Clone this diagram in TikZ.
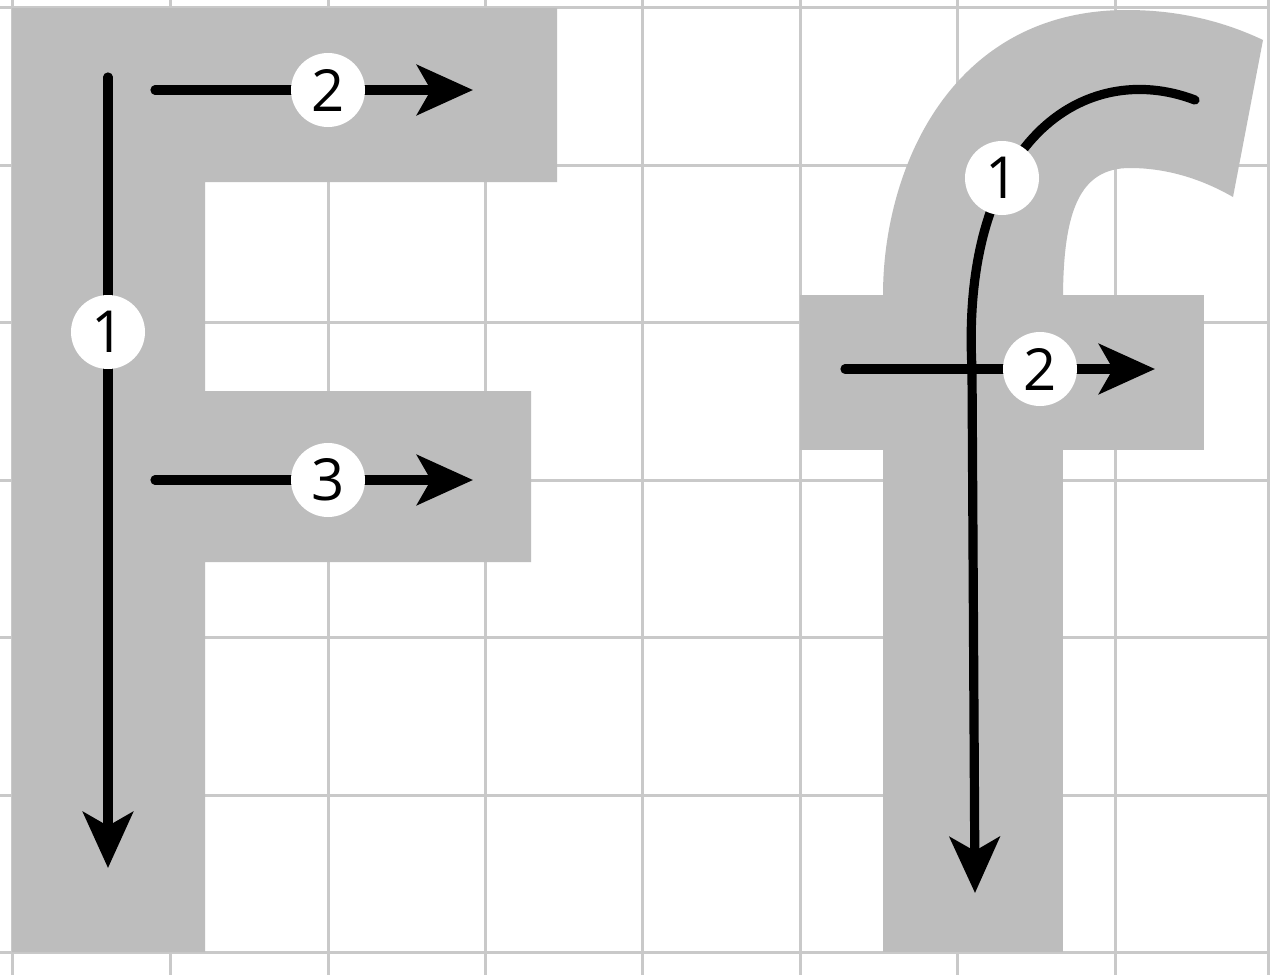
\documentclass[tikz,border=0pt]{standalone}
\usepackage{fontspec}
\setmainfont{Open Sans}
\usetikzlibrary{arrows.meta}
\definecolor{glyph}{HTML}{BDBDBD}
\definecolor{gridc}{HTML}{C9C9C9}
\tikzset{
  gridline/.style={draw=gridc, line width=1.5pt},
  glyphfill/.style={fill=glyph, draw=none},
  arr/.style={draw=black, line width=4.6pt, line cap=round,
    -{Stealth[length=28pt,width=25pt,inset=7pt]}},
  curve/.style={draw=black, line width=4.6pt, line cap=round},
  num/.style={circle, fill=white, draw=none, minimum size=37pt, inner sep=0pt,
    font=\fontsize{29}{29}\selectfont}
}
\begin{document}
\begin{tikzpicture}[x=0.5pt, y=-0.5pt]
\useasboundingbox (0,0) rectangle (1270,975);
\fill[white] (0,0) rectangle (1270,975);
% grid
\foreach \gx in {12,170,328,485,642,800,957,1115,1268}
  \draw[gridline] (\gx,0) -- (\gx,975);
\foreach \gy in {7,165,322,480,637,795,952}
  \draw[gridline] (0,\gy) -- (1270,\gy);
% letter F
\path[glyphfill] (12,8) -- (557,8) -- (557,182) -- (205,182) -- (205,391)
  -- (531,391) -- (531,562) -- (205,562) -- (205,952) -- (12,952) -- cycle;
% letter f
\path[glyphfill] (800,295) rectangle (1204,450);
\path[glyphfill] (883,295) rectangle (1063,952);
\path[glyphfill] (883,300) -- (883,295) .. controls (883,170) and (950,10) .. (1127,10)
  .. controls (1180,10) and (1225,22) .. (1263,40) -- (1233,197)
  .. controls (1200,178) and (1165,168) .. (1130,168)
  .. controls (1080,168) and (1063,210) .. (1063,300) -- cycle;
% F strokes
\coordinate (Fas) at (108,77);
\coordinate (Fae) at (108,868);
\coordinate (Fbs) at (155,90);
\coordinate (Fbe) at (473,90);
\coordinate (Fcs) at (155,480);
\coordinate (Fce) at (473,480);
\draw[arr] (Fas) -- (Fae);
\draw[arr] (Fbs) -- (Fbe);
\draw[arr] (Fcs) -- (Fce);
\node[num] (F1) at (108,332) {1};
\node[num] (F2) at (328,90) {2};
\node[num] (F3) at (328,480) {3};
% f strokes
\coordinate (fas) at (1195,100);
\coordinate (fam) at (972,369);
\coordinate (fae) at (975,893);
\coordinate (fbs) at (845,369);
\coordinate (fbe) at (1155,369);
\draw[curve] (fas) .. controls (1085,58) and (960,140) .. (fam);
\draw[arr] (fam) -- (fae);
\draw[arr] (fbs) -- (fbe);
\node[num] (f1) at (1002,178) {1};
\node[num] (f2) at (1040,369) {2};
\end{tikzpicture}
\end{document}
